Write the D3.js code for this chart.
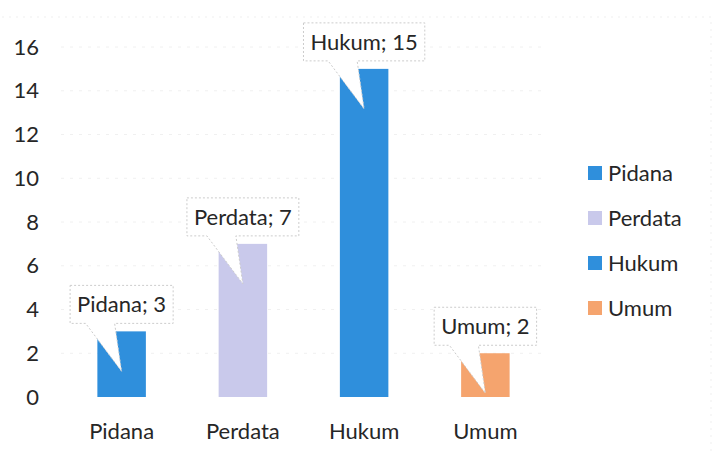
<!DOCTYPE html>
<html>
<head>
<meta charset="utf-8">
<script src="https://cdn.jsdelivr.net/npm/d3@7"></script>
<style>
  body { margin: 0; background: #fff; }
  text { font-family: Lato, "Open Sans", sans-serif; fill: #262626; }
</style>
</head>
<body>
<div id="chart"></div>
<script>
// data
const categories = ["Pidana", "Perdata", "Hukum", "Umum"];
const values = [3, 7, 15, 2];
const yTicks = [0, 2, 4, 6, 8, 10, 12, 14, 16];
const colors = ["#2f8fdc", "#c9c9eb", "#2f8fdc", "#f5a46e"];

const WIDTH = 718, HEIGHT = 453;
const PLOT = {left: 61, right: 546, top: 47, bottom: 397};
const FONT = "22px";

const svg = d3.select("#chart").append("svg")
    .attr("width", WIDTH).attr("height", HEIGHT);

// faint scan border of the chart area
svg.append("path")
    .attr("d", "M2,17 H711 V453")
    .attr("fill", "none").attr("stroke", "#efefef")
    .attr("stroke-dasharray", "2,5");

const x = d3.scaleBand().domain(categories).range([PLOT.left, PLOT.right]);
const y = d3.scaleLinear().domain([0, 16]).range([PLOT.bottom, PLOT.top]);
const barW = x.bandwidth() * 0.4;

// gridlines (very faint dotted)
svg.append("g").selectAll("line")
    .data(yTicks.slice(1))
    .enter().append("line")
    .attr("x1", PLOT.left).attr("x2", PLOT.right)
    .attr("y1", d => y(d)).attr("y2", d => y(d))
    .attr("stroke", "#f0f0f0").attr("stroke-dasharray", "3,6");

// y tick labels
svg.append("g").selectAll("text")
    .data(yTicks)
    .enter().append("text")
    .attr("x", 39).attr("y", d => y(d))
    .attr("dy", "0.35em")
    .attr("text-anchor", "end")
    .style("font-size", FONT)
    .text(d => d);

// x labels
svg.append("g").selectAll("text")
    .data(categories)
    .enter().append("text")
    .attr("x", d => x(d) + x.bandwidth() / 2)
    .attr("y", 431)
    .attr("dy", "0.35em")
    .attr("text-anchor", "middle")
    .style("font-size", FONT)
    .text(d => d);

// bars
svg.append("g").selectAll("rect")
    .data(categories)
    .enter().append("rect")
    .attr("x", d => x(d) + (x.bandwidth() - barW) / 2)
    .attr("width", barW)
    .attr("y", (d, i) => y(values[i]))
    .attr("height", (d, i) => y(0) - y(values[i]))
    .attr("fill", (d, i) => colors[i]);

// callout labels
const callouts = svg.append("g").selectAll("g")
    .data(categories)
    .enter().append("g");

callouts.each(function(d, i) {
    const g = d3.select(this);
    const cx = x(d) + x.bandwidth() / 2;
    const top = y(values[i]);
    const label = d + "; " + values[i];
    const t = g.append("text")
        .attr("x", cx).attr("y", top - 27)
        .attr("dy", "0.35em")
        .attr("text-anchor", "middle")
        .style("font-size", FONT)
        .text(label);
    const w = t.node().getComputedTextLength() + 14;
    const bx0 = cx - w / 2, bx1 = cx + w / 2;
    const by0 = top - 46, by1 = top - 8;
    const tipY = top + 40;
    // box with tail as one outline
    g.insert("path", "text")
        .attr("d", `M${bx0},${by0} H${bx1} V${by1} H${cx - 7} L${cx},${tipY} L${cx - 36},${by1} H${bx0} Z`)
        .attr("fill", "#fff")
        .attr("stroke", "#cccccc")
        .attr("stroke-width", 1)
        .attr("stroke-dasharray", "2,2");
});

// legend
const legend = svg.append("g").selectAll("g")
    .data(categories)
    .enter().append("g")
    .attr("transform", (d, i) => `translate(588, ${173 + i * 45})`);

legend.append("rect")
    .attr("x", 0).attr("y", -7)
    .attr("width", 14).attr("height", 14)
    .attr("fill", (d, i) => colors[i]);

legend.append("text")
    .attr("x", 20).attr("y", 0)
    .attr("dy", "0.35em")
    .style("font-size", FONT)
    .text(d => d);
</script>
</body>
</html>
